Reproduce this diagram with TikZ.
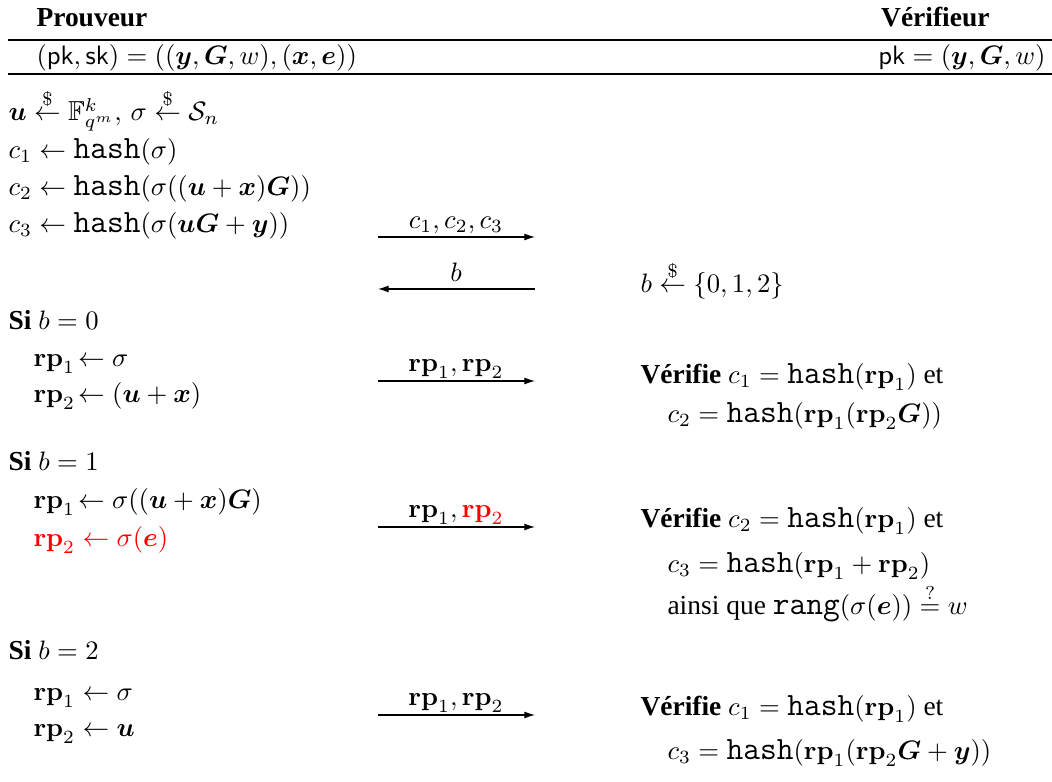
\documentclass[tikz,border=0pt]{standalone}
\usepackage[no-math]{fontspec}
\setmainfont{Liberation Serif}
\usepackage{amsmath,amssymb,bm}
\usetikzlibrary{arrows.meta}
\newcommand{\hashf}{\mbox{\fontsize{12.2}{12}\selectfont\ttfamily hash}}
\newcommand{\rangf}{\mbox{\fontsize{12.2}{12}\selectfont\ttfamily rang}}
\newcommand{\rpv}{\mathbf{rp}}
\newcommand{\rnd}{\stackrel{\$}{\leftarrow}}
\tikzset{
  txt/.style={anchor=base west, inner sep=0pt, font=\fontsize{10.3}{12}\selectfont},
  txtr/.style={anchor=base east, inner sep=0pt, font=\fontsize{10.3}{12}\selectfont},
  lbl/.style={anchor=base, inner sep=0pt, font=\fontsize{10.3}{12}\selectfont},
  msg/.style={line width=0.4pt, -{Latex[length=4pt,width=2.6pt]}},
  rule/.style={line width=0.5pt}
}
\begin{document}
\begin{tikzpicture}[x=0.375pt, y=-0.375pt]
\useasboundingbox (0,0) rectangle (1052,782);
% header
\node[txt] (hp) at (36,27) {\textbf{Prouveur}};
\node[txtr] (hv) at (990,27) {\textbf{Vérifieur}};
\coordinate (l1a) at (8,40); \coordinate (l1b) at (1052,40);
\draw[rule] (l1a) -- (l1b);
\node[txt] (kp) at (36,65) {$(\mathsf{pk},\mathsf{sk}) = ((\bm y,\bm G,w),(\bm x,\bm e))$};
\node[txtr] (kv) at (1046,65) {$\mathsf{pk} = (\bm y,\bm G,w)$};
\coordinate (l2a) at (8,74); \coordinate (l2b) at (1052,74);
\draw[rule] (l2a) -- (l2b);
% commitment
\node[txt] (r0) at (8,121) {$\bm u \rnd \mathbb{F}_{q^m}^k,\, \sigma \rnd \mathcal{S}_n$};
\node[txt] (r1) at (8,159) {$c_1 \leftarrow \hashf(\sigma)$};
\node[txt] (r2) at (8,196) {$c_2 \leftarrow \hashf(\sigma((\bm u+\bm x)\bm G))$};
\node[txt] (r3) at (8,233) {$c_3 \leftarrow \hashf(\sigma(\bm u\bm G+\bm y))$};
\coordinate (a1s) at (378,237); \coordinate (a1e) at (535,237);
\draw[msg] (a1s) -- (a1e);
\node[lbl] (a1l) at (456,229) {$c_1, c_2, c_3$};
\coordinate (a2s) at (535,289); \coordinate (a2e) at (378,289);
\draw[msg] (a2s) -- (a2e);
\node[lbl] (a2l) at (456,282) {$b$};
\node[txt] (vb) at (640,293) {$b \rnd \{0,1,2\}$};
% b = 0
\node[txt] (s0) at (8,330) {\textbf{Si} $b=0$};
\node[txt] (s0a) at (33,367) {$\rpv_1\!\leftarrow \sigma$};
\node[txt] (s0b) at (33,403) {$\rpv_2\!\leftarrow (\bm u+\bm x)$};
\coordinate (a3s) at (378,381); \coordinate (a3e) at (535,381);
\draw[msg] (a3s) -- (a3e);
\node[lbl] (a3l) at (456,372) {$\rpv_1, \rpv_2$};
\node[txt] (v0a) at (640,384) {\textbf{Vérifie} $c_1 = \hashf(\rpv_1)$ et};
\node[txt] (v0b) at (667,423) {$c_2 = \hashf(\rpv_1(\rpv_2\bm G))$};
% b = 1
\node[txt] (s1) at (8,471) {\textbf{Si} $b=1$};
\node[txt] (s1a) at (33,509) {$\rpv_1\!\leftarrow \sigma((\bm u+\bm x)\bm G)$};
\node[txt, text=red] (s1b) at (33,547) {$\rpv_2 \leftarrow \sigma(\bm e)$};
\coordinate (a4s) at (378,527); \coordinate (a4e) at (535,527);
\draw[msg] (a4s) -- (a4e);
\node[lbl] (a4l) at (456,518) {$\rpv_1, {\color{red}\rpv_2}$};
\node[txt] (v1a) at (640,528) {\textbf{Vérifie} $c_2 = \hashf(\rpv_1)$ et};
\node[txt] (v1b) at (667,573) {$c_3 = \hashf(\rpv_1+\rpv_2)$};
\node[txt] (v1c) at (667,615) {ainsi que $\rangf(\sigma(\bm e)) \stackrel{?}{=} w$};
% b = 2
\node[txt] (s2) at (8,660) {\textbf{Si} $b=2$};
\node[txt] (s2a) at (33,701) {$\rpv_1 \leftarrow \sigma$};
\node[txt] (s2b) at (33,737) {$\rpv_2 \leftarrow \bm u$};
\coordinate (a5s) at (378,715); \coordinate (a5e) at (535,715);
\draw[msg] (a5s) -- (a5e);
\node[lbl] (a5l) at (456,706) {$\rpv_1, \rpv_2$};
\node[txt] (v2a) at (640,716) {\textbf{Vérifie} $c_1 = \hashf(\rpv_1)$ et};
\node[txt] (v2b) at (667,760) {$c_3 = \hashf(\rpv_1(\rpv_2\bm G+\bm y))$};
\end{tikzpicture}
\end{document}
